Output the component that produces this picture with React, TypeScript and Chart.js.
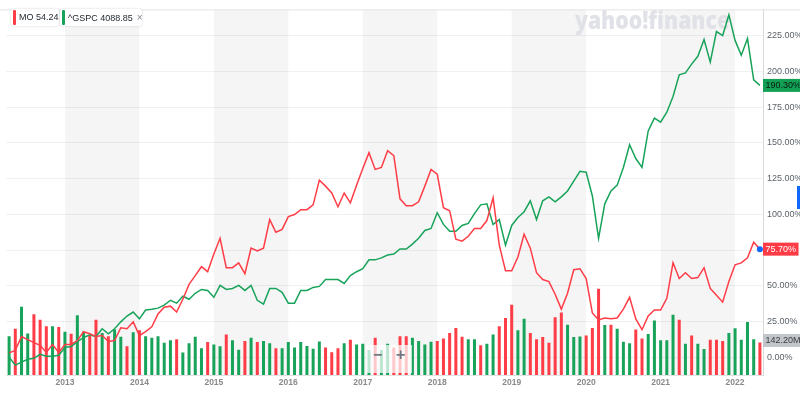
import React, { useEffect, useRef } from 'react';
import { Chart, registerables } from 'chart.js';

Chart.register(...registerables);

const months = [
  '2012-04','2012-05','2012-06','2012-07','2012-08','2012-09','2012-10','2012-11','2012-12',
  '2013-01','2013-02','2013-03','2013-04','2013-05','2013-06','2013-07','2013-08','2013-09','2013-10','2013-11','2013-12',
  '2014-01','2014-02','2014-03','2014-04','2014-05','2014-06','2014-07','2014-08','2014-09','2014-10','2014-11','2014-12',
  '2015-01','2015-02','2015-03','2015-04','2015-05','2015-06','2015-07','2015-08','2015-09','2015-10','2015-11','2015-12',
  '2016-01','2016-02','2016-03','2016-04','2016-05','2016-06','2016-07','2016-08','2016-09','2016-10','2016-11','2016-12',
  '2017-01','2017-02','2017-03','2017-04','2017-05','2017-06','2017-07','2017-08','2017-09','2017-10','2017-11','2017-12',
  '2018-01','2018-02','2018-03','2018-04','2018-05','2018-06','2018-07','2018-08','2018-09','2018-10','2018-11','2018-12',
  '2019-01','2019-02','2019-03','2019-04','2019-05','2019-06','2019-07','2019-08','2019-09','2019-10','2019-11','2019-12',
  '2020-01','2020-02','2020-03','2020-04','2020-05','2020-06','2020-07','2020-08','2020-09','2020-10','2020-11','2020-12',
  '2021-01','2021-02','2021-03','2021-04','2021-05','2021-06','2021-07','2021-08','2021-09','2021-10','2021-11','2021-12',
  '2022-01','2022-02','2022-03','2022-04','2022-05',
];

// MO % change
const moPct = [
  3.1, 4.8, 14.5, 12.4, 10.3, 8.3, 3.4, 9.0, 3.4, 9.0,
  9.0, 11.7, 17.9, 16.5, 14.5, 15.2, 11.0, 11.7, 20.7, 20.0,
  24.8, 15.2, 17.9, 21.3, 30.3, 35.1, 35.8, 31.7, 40.6, 51.0,
  57.2, 63.4, 59.9, 72.3, 83.3, 62.7, 62.7, 66.1, 58.5, 76.4,
  74.4, 76.4, 96.4, 87.5, 89.5, 98.5, 99.9, 103.3, 103.3, 106.7,
  124.0, 119.8, 115.0, 105.4, 115.0, 108.1, 120.5, 132.2, 143.2, 131.5,
  132.9, 144.6, 141.2, 110.9, 106.1, 106.1, 108.8, 119.8, 131.5, 128.1,
  104.7, 102.6, 82.6, 81.3, 84.7, 90.2, 90.2, 95.7, 111.6, 78.5,
  60.6, 60.6, 70.2, 86.1, 76.4, 59.2, 54.4, 53.0, 44.1, 33.7,
  44.8, 61.3, 62.0, 55.1, 31.0, 26.2, 27.5, 26.9, 27.5, 33.7,
  42.0, 26.9, 19.3, 28.9, 33.1, 33.1, 41.3, 66.1, 55.1, 59.2,
  55.1, 55.8, 62.7, 48.2, 43.4, 38.6, 53.0, 64.7, 66.1, 69.6,
  80.6, 75.7,
];

// ^GSPC % change
const gspcPct = [
  0, -5.5, -3.4, -1.4, -0.7, 2.1, 0.7, 0.7, 1.4, 6.9,
  7.6, 11.0, 13.8, 15.8, 14.5, 20.0, 16.5, 20.0, 24.8, 28.9,
  31.7, 26.9, 33.1, 33.7, 34.4, 36.5, 39.9, 37.9, 42.7, 40.6,
  44.8, 47.5, 46.8, 42.0, 50.3, 47.5, 48.2, 50.3, 46.8, 50.3,
  39.9, 37.2, 48.2, 48.2, 45.5, 37.9, 37.9, 46.8, 46.8, 48.9,
  49.6, 54.4, 54.4, 54.4, 51.7, 57.2, 59.9, 62.0, 68.2, 68.2,
  69.6, 71.6, 72.3, 75.8, 75.8, 79.2, 83.3, 88.8, 90.2, 101.2,
  93.0, 88.2, 88.2, 92.3, 93.7, 100.6, 106.7, 107.4, 93.0, 96.4,
  78.5, 92.3, 97.8, 101.9, 109.5, 96.4, 109.5, 112.3, 108.8, 112.3,
  116.4, 123.3, 130.2, 129.5, 112.9, 83.3, 107.4, 116.4, 120.5, 132.9,
  148.8, 139.1, 132.9, 158.4, 167.4, 164.6, 171.5, 182.5, 197.7, 199.0,
  205.2, 210.7, 222.4, 206.6, 228.0, 225.2, 239.7, 221.8, 211.4, 223.1,
  194.2, 190.3,
];

// MO monthly volume, millions
const volumeM = [
  170, 202, 299, 182, 266, 242, 213, 213, 210, 189,
  180, 261, 189, 173, 242, 184, 170, 199, 167, 126,
  187, 196, 170, 163, 170, 141, 152, 157, 98, 139,
  167, 117, 144, 134, 126, 177, 152, 110, 149, 163,
  144, 149, 139, 117, 117, 144, 120, 144, 127, 115,
  147, 120, 100, 117, 139, 154, 134, 137, 109, 163,
  109, 137, 120, 170, 170, 163, 149, 134, 146, 149,
  160, 184, 206, 167, 156, 156, 130, 137, 177, 213,
  249, 307, 196, 246, 184, 156, 166, 141, 253, 273,
  220, 166, 169, 173, 206, 378, 219, 220, 202, 146,
  139, 199, 160, 179, 238, 152, 152, 264, 242, 137,
  173, 137, 114, 154, 154, 149, 184, 205, 154, 232,
  157, 142.2,
];

// 1 = up month, 0 = down month
const volumeUp = [
  1,0,1,1,0,0,0,1,0,1,
  0,1,1,0,0,1,0,1,1,0,
  1,0,1,1,1,1,1,0,1,1,
  1,1,0,1,1,0,1,1,0,1,
  0,1,1,0,1,1,1,1,1,1,
  1,0,0,0,1,0,1,1,1,0,
  1,1,0,0,0,1,1,1,1,0,
  0,0,0,0,1,1,0,1,1,0,
  0,0,1,1,0,0,0,0,0,0,
  1,1,1,0,0,0,1,0,1,1,
  1,0,0,1,1,1,1,1,0,1,
  0,1,1,0,0,0,1,1,1,1,
  1,0,
];

const yTickValues = [0, 25, 50, 75, 100, 125, 150, 175, 200, 225];
const shadedYears = ['2013', '2015', '2017', '2019', '2021'];
const legendItems = [
  { symbol: 'MO', price: '54.24' },
  { symbol: '^GSPC', price: '4088.85' },
];
const volumeLabel = '142.20M';

const RED = '#ff3d47';
const GREEN = '#18a35a';
const FONT = "'Liberation Sans', Arial, sans-serif";

export default function App() {
  const ref = useRef<HTMLCanvasElement>(null);

  useEffect(() => {
    if (!ref.current) return;
    Chart.defaults.font.family = FONT;

    const decor = {
      id: 'decor',
      beforeDraw(chart: any) {
        const { ctx, chartArea: a, scales } = chart;
        const x = scales.x;
        ctx.save();
        ctx.fillStyle = '#f5f5f5';
        shadedYears.forEach((yr) => {
          const s = months.indexOf(yr + '-01');
          const e = months.indexOf(String(Number(yr) + 1) + '-01');
          const x0 = x.getPixelForValue(s);
          const x1 = e < 0 ? a.right : x.getPixelForValue(e);
          ctx.fillRect(x0, a.top, x1 - x0, a.bottom - a.top);
        });
        ctx.restore();
      },
      beforeDatasetsDraw(chart: any) {
        const { ctx, chartArea: a } = chart;
        ctx.save();
        ctx.font = "800 24px 'Open Sans', 'Liberation Sans', sans-serif";
        const txt = 'yahoo!finance';
        const w = ctx.measureText(txt).width;
        ctx.fillStyle = '#e1e2e7';
        ctx.textBaseline = 'alphabetic';
        ctx.translate(575, 29);
        ctx.scale(155 / w, 1);
        ctx.fillText(txt, 0, 0);
        ctx.restore();
        ctx.save();
        ctx.strokeStyle = '#e4e4e4';
        ctx.lineWidth = 1;
        ctx.beginPath();
        ctx.moveTo(0, a.top + 0.5);
        ctx.lineTo(chart.width, a.top + 0.5);
        ctx.stroke();
        ctx.restore();
      },
      afterDraw(chart: any) {
        const { ctx, chartArea: a, scales } = chart;
        const y = scales.y;
        const yv = scales.yv;
        const boxes = [
          { v: y.getPixelForValue(gspcPct[gspcPct.length - 1]), text: gspcPct[gspcPct.length - 1].toFixed(2) + '%', bg: '#12a055', fg: '#0a1a10' },
          { v: y.getPixelForValue(moPct[moPct.length - 1]), text: moPct[moPct.length - 1].toFixed(2) + '%', bg: '#ff3b46', fg: '#ffffff' },
          { v: yv.getPixelForValue(volumeM[volumeM.length - 1]) - 2, text: volumeLabel, bg: '#c2c5ca', fg: '#3a4047' },
        ];
        ctx.save();
        ctx.font = `9px ${FONT}`;
        ctx.textBaseline = 'middle';
        boxes.forEach((b) => {
          const tw = ctx.measureText(b.text).width;
          ctx.fillStyle = b.bg;
          ctx.fillRect(a.right, b.v - 6.5, tw + 5, 13);
          ctx.fillStyle = b.fg;
          ctx.fillText(b.text, a.right + 2.5, b.v + 0.5);
        });
        ctx.restore();
      },
    };

    const n = moPct.length;
    const chart = new Chart(ref.current, {
      type: 'bar',
      data: {
        labels: months,
        datasets: [
          {
            type: 'line',
            label: 'MO',
            data: moPct,
            borderColor: RED,
            borderWidth: 1.5,
            pointRadius: moPct.map((_, i) => (i === n - 1 ? 3 : 0)),
            pointBackgroundColor: '#0f69ff',
            pointBorderWidth: 0,
            tension: 0,
            yAxisID: 'y',
            order: 1,
          } as any,
          {
            type: 'line',
            label: '^GSPC',
            data: gspcPct,
            borderColor: GREEN,
            borderWidth: 1.5,
            pointRadius: 0,
            tension: 0,
            yAxisID: 'y',
            order: 2,
          } as any,
          {
            type: 'bar',
            label: 'Volume',
            data: volumeM,
            backgroundColor: volumeUp.map((u) => (u ? GREEN : RED)),
            barPercentage: 0.5,
            categoryPercentage: 1,
            maxBarThickness: 3,
            yAxisID: 'yv',
            order: 3,
          } as any,
        ],
      },
      options: {
        animation: false,
        responsive: false,
        devicePixelRatio: 1,
        layout: { padding: { left: 6, top: 4, right: 0, bottom: 0 } },
        plugins: { legend: { display: false }, tooltip: { enabled: false } },
        scales: {
          x: {
            type: 'category',
            offset: true,
            grid: { display: false, drawTicks: false },
            border: { display: true, color: '#e2e2e2' },
            ticks: {
              autoSkip: false,
              maxRotation: 0,
              minRotation: 0,
              padding: 3,
              color: '#8a8a8a',
              font: { size: 8.5, weight: 'bold' },
              callback: (_v: any, i: number) => (months[i].endsWith('-01') ? months[i].slice(0, 4) : ''),
            },
            afterFit: (s: any) => { s.height = 18; },
          },
          y: {
            position: 'right',
            min: -12.4,
            max: 243.5,
            afterBuildTicks: (s: any) => { s.ticks = yTickValues.map((v) => ({ value: v })); },
            afterFit: (s: any) => { s.width = 37; },
            grid: { color: 'rgba(0,0,0,0.055)', drawTicks: false },
            border: { display: true, color: '#d9d9d9' },
            ticks: {
              padding: 4,
              color: '#5b636a',
              font: { size: 9 },
              callback: (v: any) => Number(v).toFixed(2) + '%',
            },
          },
          yv: {
            display: false,
            min: 0,
            max: 1600,
          },
        },
      } as any,
      plugins: [decor],
    });
    return () => chart.destroy();
  }, []);

  const chip = (left: number, width: number, color: string, text: string, close: boolean) => (
    <div
      style={{
        position: 'absolute', left, top: 9, width, height: 17, background: '#fff',
        boxShadow: '0 0 2px rgba(0,0,0,0.22)', borderRadius: 2, boxSizing: 'border-box',
      }}
    >
      <div style={{ position: 'absolute', left: 2, top: 1, bottom: 1, width: 3, background: color, borderRadius: 1 }} />
      <div style={{ position: 'absolute', left: 8, top: 0, lineHeight: '17px', fontSize: 9, color: '#232a31', whiteSpace: 'nowrap' }}>
        {text}
        {close ? <span style={{ color: '#7d858c', marginLeft: 4, fontSize: 10 }}>×</span> : null}
      </div>
    </div>
  );

  return (
    <div style={{ position: 'fixed', left: 0, top: 0, width: 800, height: 393, background: '#fff', overflow: 'hidden', fontFamily: FONT }}>
      <canvas ref={ref} width={800} height={393} style={{ position: 'absolute', left: 0, top: 0, width: 800, height: 393 }} />
      {chip(11, 48, RED, `${legendItems[0].symbol} ${legendItems[0].price}`, false)}
      {chip(60, 82, GREEN, `${legendItems[1].symbol} ${legendItems[1].price}`, true)}
      <div style={{ position: 'absolute', left: 797, top: 186, width: 3, height: 23, background: '#0f69ff' }} />
      <div
        style={{
          position: 'absolute', left: 366, top: 345, width: 46, height: 28, background: 'rgba(255,255,255,0.72)',
          color: '#6f7780', fontSize: 16, fontWeight: 'bold', lineHeight: '16px',
        }}
      >
        <span style={{ position: 'absolute', left: 7, top: 2 }}>−</span>
        <span style={{ position: 'absolute', left: 30, top: 2 }}>+</span>
      </div>
    </div>
  );
}
